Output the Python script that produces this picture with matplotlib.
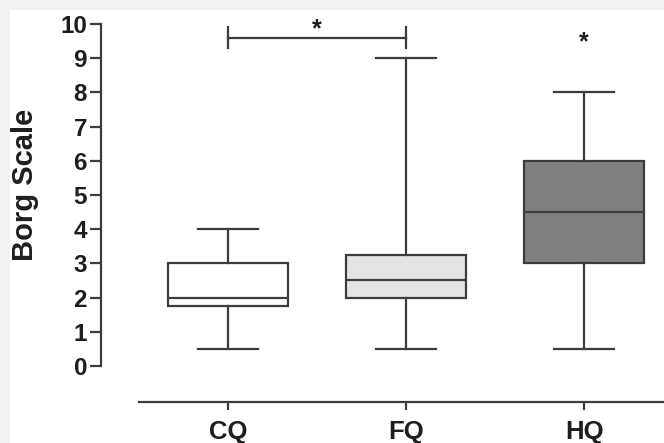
import matplotlib
matplotlib.use("Agg")
import matplotlib.pyplot as plt
from matplotlib.patches import Rectangle

categories = ["CQ", "FQ", "HQ"]
whisker_low = [0.5, 0.5, 0.5]
q1_values = [1.75, 2.0, 3.0]
medians = [2.0, 2.5, 4.5]
q3_values = [3.0, 3.25, 6.0]
whisker_high = [4.0, 9.0, 8.0]
box_colors = ["#ffffff", "#e3e3e3", "#808080"]
y_ticks = list(range(0, 11))

plt.rcParams['font.family'] = ['Liberation Sans', 'DejaVu Sans']
LC = "#3c3c3c"
TC = "#1e1e1e"

fig = plt.figure(figsize=(6.64, 4.43), dpi=100)
fig.patches.append(Rectangle((0, 1 - 10/443), 1, 10/443, transform=fig.transFigure,
                             facecolor="#f2f2f2", edgecolor="none", zorder=0))
fig.patches.append(Rectangle((0, 0), 10/664, 1, transform=fig.transFigure,
                             facecolor="#f2f2f2", edgecolor="none", zorder=0))

ax = fig.add_axes([101/664, 41/443, 1 - 101/664, (402 - 24)/443])

stats = []
for i, c in enumerate(categories):
    stats.append(dict(label=c, whislo=whisker_low[i], q1=q1_values[i], med=medians[i],
                      q3=q3_values[i], whishi=whisker_high[i], fliers=[]))

bp = ax.bxp(stats, positions=[1, 2, 3], widths=0.674, patch_artist=True,
            showfliers=False, capwidths=0.337,
            boxprops=dict(linewidth=1.6, edgecolor=LC),
            medianprops=dict(linewidth=1.6, color=LC),
            whiskerprops=dict(linewidth=1.6, color=LC),
            capprops=dict(linewidth=1.6, color=LC))
for patch, col in zip(bp['boxes'], box_colors):
    patch.set_facecolor(col)

ax.set_xlim(0.2865, 3.449)
ax.set_ylim(-1.053, 10)

for s in ['top', 'right']:
    ax.spines[s].set_visible(False)
ax.spines['left'].set_bounds(0, 10)
ax.spines['bottom'].set_bounds(0.5, 3.449)
for s in ['left', 'bottom']:
    ax.spines[s].set_linewidth(1.6)
    ax.spines[s].set_color(LC)

ax.set_yticks(y_ticks)
ax.set_yticklabels([str(t) for t in y_ticks], fontsize=17.5, fontweight='bold', color=TC)
ax.set_xticks([1, 2, 3])
ax.set_xticklabels(categories, fontsize=18.5, fontweight='bold', color=TC)
ax.tick_params(axis='y', length=8, width=1.6, color=LC, pad=2)
ax.tick_params(axis='x', length=6, width=1.6, color=LC, pad=7)
fig.text(25/664, 1 - 185/443, "Borg Scale", rotation=90, ha='center', va='center',
         fontsize=21, fontweight='bold', color=TC)
ax.patch.set_alpha(0)

# significance bracket
ax.plot([1, 2], [9.59, 9.59], color=LC, lw=1.6, clip_on=False)
ax.plot([1, 1], [9.3, 9.9], color=LC, lw=1.6, clip_on=False)
ax.plot([2, 2], [9.3, 9.9], color=LC, lw=1.6, clip_on=False)
ax.text(1.5, 9.85, "*", ha='center', va='center', fontsize=18, fontweight='bold',
        color=TC, clip_on=False)
ax.text(3, 9.45, "*", ha='center', va='center', fontsize=18, fontweight='bold',
        color=TC, clip_on=False)

fig.savefig("out.png", dpi=100)
